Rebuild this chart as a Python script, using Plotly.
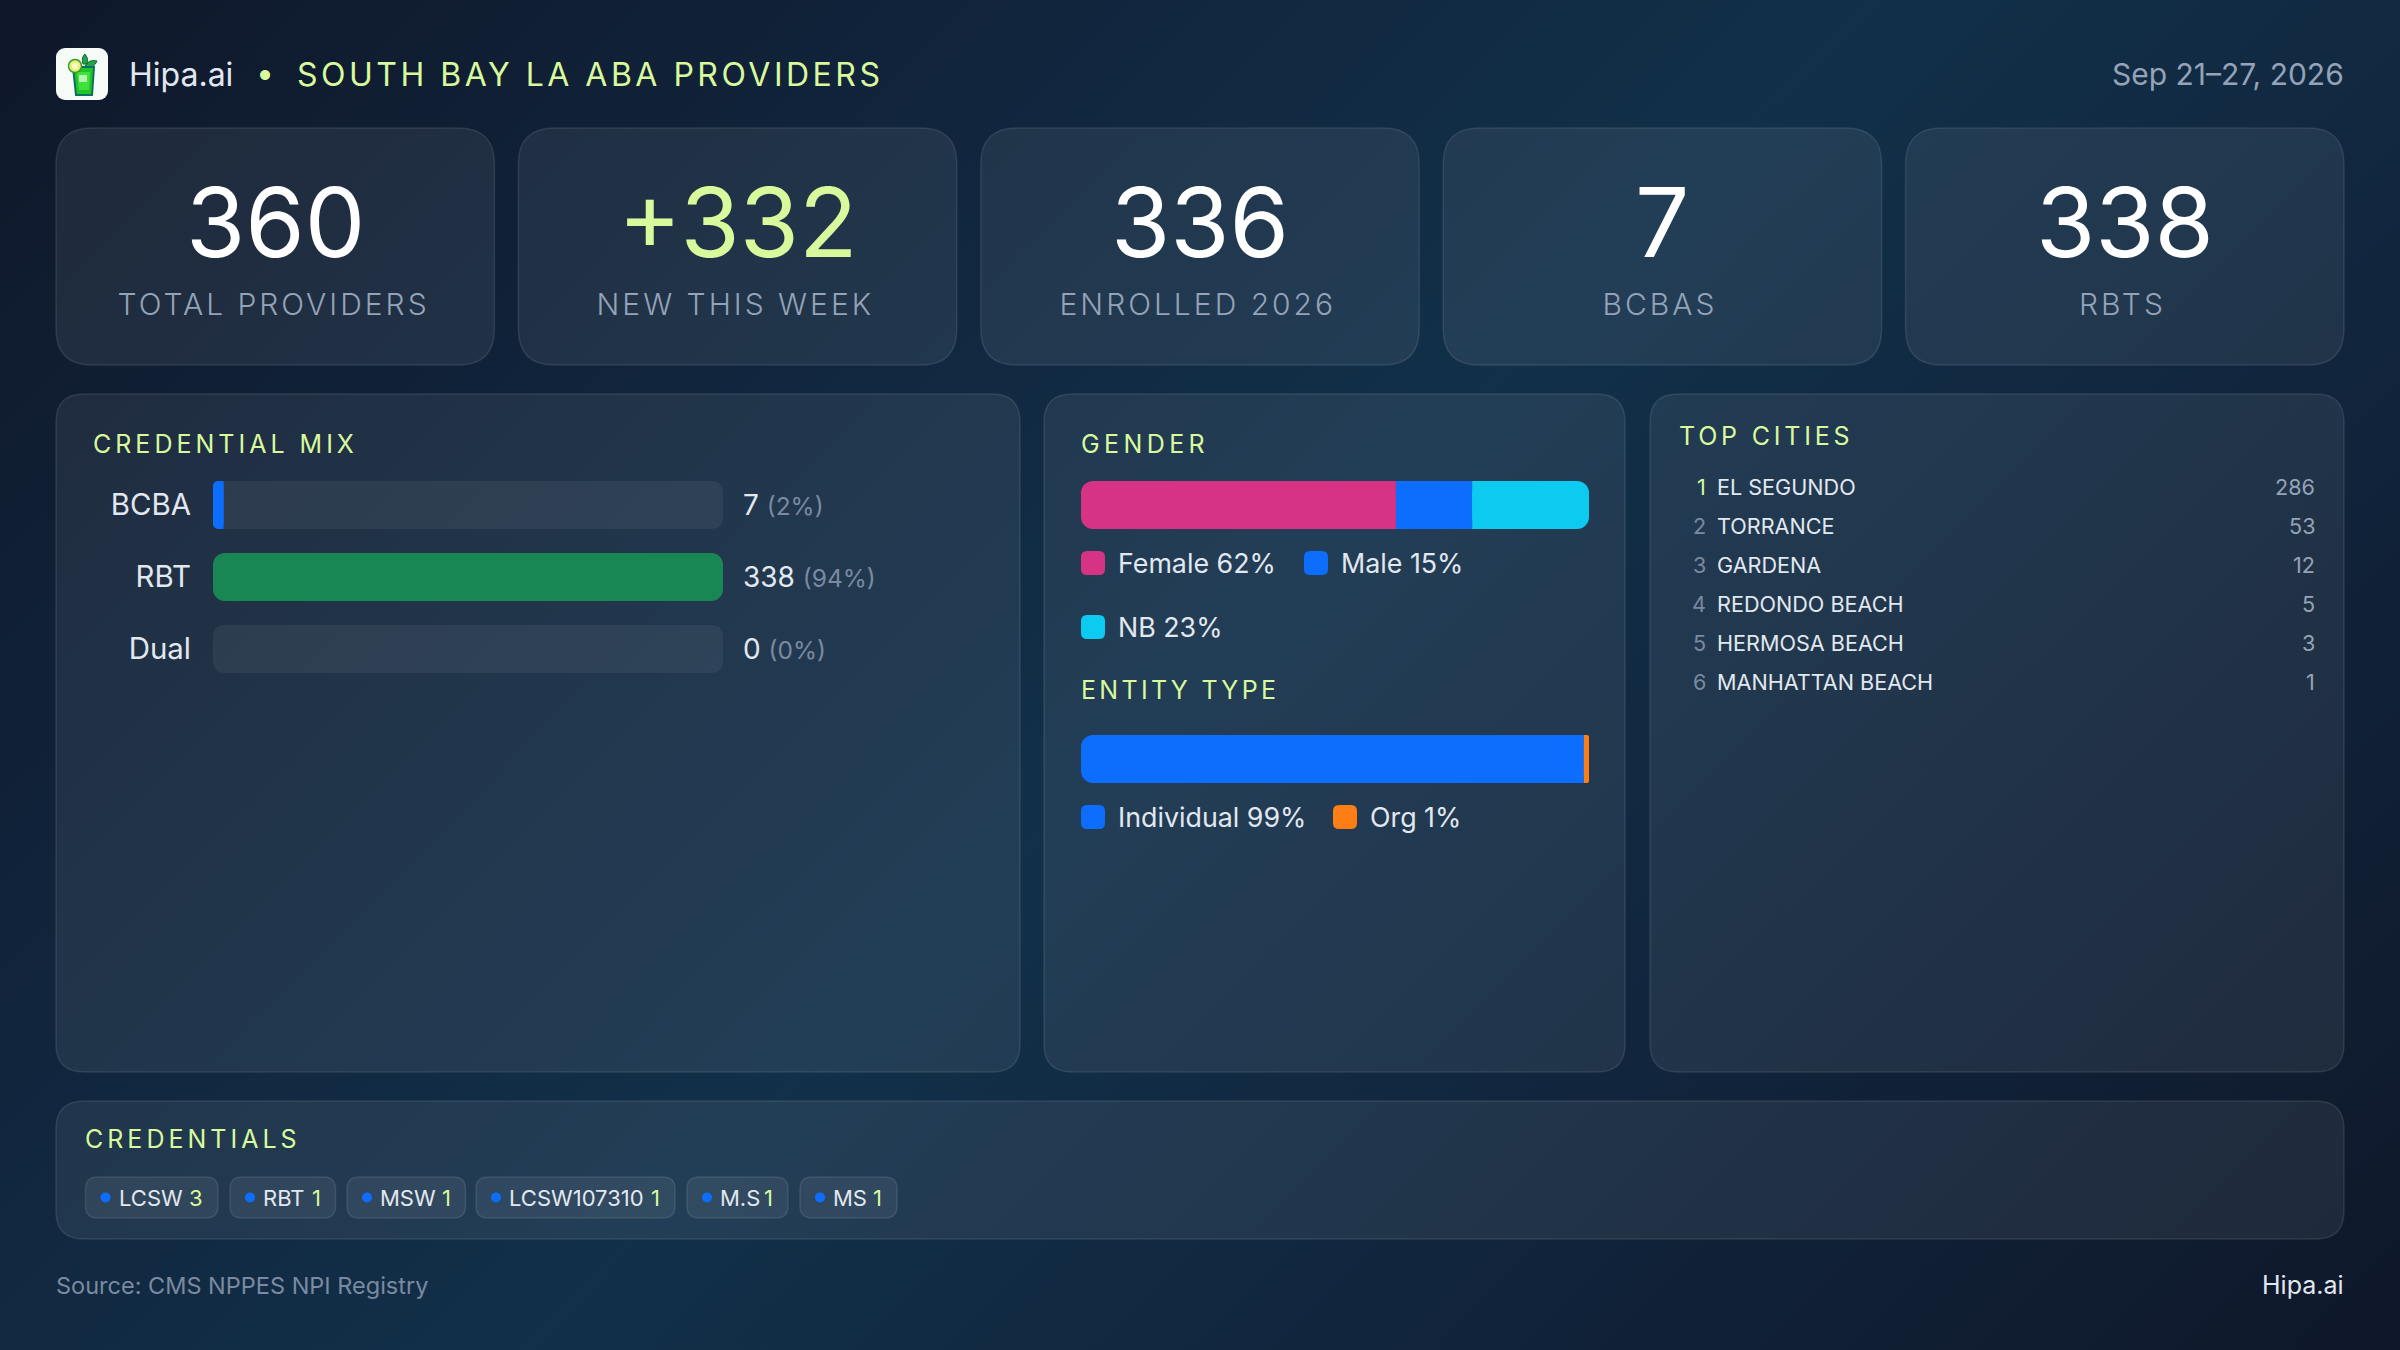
import base64
import json

import plotly.graph_objs as go

W = 2400
H = 1350
FONT = "Inter"
LIME = "#d9f99d"
TEXT = "#e2e8f0"
MUTED = "#94a3b8"
DIM = "#7a8aa0"
BLUE = "#0d6efd"
PINK = "#d63384"
CYAN = "#0dcaf0"
ORANGE = "#fd7e14"
GREEN = "#198754"
TRACK = "rgba(255,255,255,0.06)"
CARD = "rgba(255,255,255,0.072)"
EDGE = "rgba(255,255,255,0.10)"

kpi_values = ["360", "+332", "336", "7", "338"]
kpi_labels = ["TOTAL PROVIDERS", "NEW THIS WEEK", "ENROLLED 2026", "BCBAS", "RBTS"]

cred_names = ["BCBA", "RBT", "Dual"]
cred_counts = [7, 338, 0]
cred_pcts = [2, 94, 0]

gender_names = ["Female", "Male", "NB"]
gender_pcts = [62, 15, 23]
entity_names = ["Individual", "Org"]
entity_pcts = [99, 1]

city_names = ["EL SEGUNDO", "TORRANCE", "GARDENA", "REDONDO BEACH", "HERMOSA BEACH", "MANHATTAN BEACH"]
city_counts = [286, 53, 12, 5, 3, 1]

pill_names = ["LCSW", "RBT", "MSW", "LCSW107310", "M.S", "MS"]
pill_counts = [3, 1, 1, 1, 1, 1]


def px(x):
    return x / W


def py(y):
    return 1 - y / H


def svg_uri(svg):
    return "data:image/svg+xml;base64," + base64.b64encode(svg.encode()).decode()


fig = go.Figure()
spacing = {}


def label(text, x, y, size, color=TEXT, anchor="left", weight=400, ls=0):
    fig.add_annotation(xref="paper", yref="paper", x=px(x), y=py(y), text=text,
                       showarrow=False, xanchor=anchor, yanchor="middle", borderpad=0, borderwidth=0,
                       font=dict(family=FONT, size=size, color=color, weight=weight))
    if ls:
        spacing[text] = [ls, anchor]


def round_rect(x0, y0, x1, y1, r, fill, line=None):
    X0, X1, Y0, Y1 = px(x0), px(x1), py(y0), py(y1)
    rx, ry = r / W, r / H
    path = (f"M {X0 + rx} {Y0} L {X1 - rx} {Y0} Q {X1} {Y0} {X1} {Y0 - ry} "
            f"L {X1} {Y1 + ry} Q {X1} {Y1} {X1 - rx} {Y1} "
            f"L {X0 + rx} {Y1} Q {X0} {Y1} {X0} {Y1 + ry} "
            f"L {X0} {Y0 - ry} Q {X0} {Y0} {X0 + rx} {Y0} Z")
    fig.add_shape(type="path", path=path, xref="paper", yref="paper", layer="below",
                  fillcolor=fill, line=dict(color=line or "rgba(0,0,0,0)", width=1.5 if line else 0))


def bar_piece(xa, ya, cat, start, end, color, radius):
    fig.add_trace(go.Bar(x=[end - start], base=[start], y=[cat], orientation="h", width=0.667,
                         xaxis=xa, yaxis=ya, hoverinfo="skip", showlegend=False,
                         marker=dict(color=color, cornerradius=radius, line_width=0)))


def segment(xa, ya, cat, start, end, color, left=True, right=True, radius=12):
    # a bar with a base gets all four corners round, so a square half goes on top for the straight end
    mid = (start + end) / 2
    bar_piece(xa, ya, cat, start, end, color, radius if left or right else 0)
    if left and not right:
        bar_piece(xa, ya, cat, mid, end, color, 0)
    if right and not left:
        bar_piece(xa, ya, cat, start, mid, color, 0)


# cards
for i in range(5):
    x0 = 56 + i * 462.4
    round_rect(x0, 128, x0 + 438.4, 365, 36, CARD, EDGE)
    cx = x0 + 219.2
    label(kpi_values[i], cx, 222, 96, LIME if i == 1 else "#ffffff", "center", 400)
    label(kpi_labels[i], cx - 2, 304, 30, MUTED, "center", 300, 3)

round_rect(56, 394, 1020, 1072, 28, CARD, EDGE)
round_rect(1044, 394, 1625, 1072, 28, CARD, EDGE)
round_rect(1650, 394, 2344, 1072, 28, CARD, EDGE)
round_rect(56, 1101, 2344, 1239, 28, CARD, EDGE)

# header
logo = ('<svg xmlns="http://www.w3.org/2000/svg" viewBox="0 0 52 52">'
        '<rect width="52" height="52" rx="9" fill="#f6fbf7"/>'
        '<path d="M27 16 Q25 9 29 6 Q33 10 31 16 Z M29 18 Q33 11 41 13 Q38 20 31 20 Z" fill="#22a447" stroke="#14663a"/>'
        '<path d="M17 19 H38 L36 47 H20 Z" fill="#22c528" stroke="#0f6e62" stroke-width="2"/>'
        '<path d="M21 24 H34 L33 42 H23 Z" fill="#3ee23b"/>'
        '<rect x="23" y="27" width="8" height="7" fill="#b6f5b0"/>'
        '<circle cx="19" cy="18" r="6.5" fill="#e8f07a" stroke="#3f9a2e" stroke-width="1.5"/>'
        '<circle cx="19" cy="18" r="3" fill="#f7f9c8"/>'
        '</svg>')
images = [dict(source=svg_uri(
    '<svg xmlns="http://www.w3.org/2000/svg" width="2400" height="1350"><defs>'
    '<linearGradient id="g" gradientUnits="userSpaceOnUse" x1="262.5" y1="-262.5" x2="2137.5" y2="1612.5">'
    '<stop offset="0" stop-color="#0f172a"/><stop offset="0.5" stop-color="#12304a"/>'
    '<stop offset="1" stop-color="#0f172a"/></linearGradient></defs>'
    '<rect width="2400" height="1350" fill="url(#g)"/></svg>'),
    xref="paper", yref="paper", x=0, y=1, sizex=1, sizey=1, sizing="stretch", layer="below",
    xanchor="left", yanchor="top"),
    dict(source=svg_uri(logo), xref="paper", yref="paper", x=px(56), y=py(48), sizex=52 / W, sizey=52 / H,
         sizing="stretch", layer="below", xanchor="left", yanchor="top")]

label("Hipa.ai", 129, 74, 32, TEXT)
label("•", 265, 73, 32, LIME, "center")
label("SOUTH BAY LA ABA PROVIDERS", 297, 74, 32, LIME, ls=3.5)
label("Sep 21–27, 2026", 2344, 74, 30, MUTED, "right")

# credential mix
label("CREDENTIAL MIX", 93, 444, 25, LIME, ls=4)
cred_max = max(cred_counts)
for row_y in [505, 577, 649]:
    round_rect(213, row_y - 24, 723, row_y + 24, 12, TRACK)
for name, count in zip(cred_names, cred_counts):
    if count:
        segment("x", "y", name, 0, count, BLUE if name == "BCBA" else GREEN, True, count == cred_max)
for count, pct, row_y in zip(cred_counts, cred_pcts, [505, 577, 649]):
    label(f'{count} <span style="color:{DIM};font-size:24.5px">({pct}%)</span>', 743, row_y, 28, TEXT)

# gender and entity
label("GENDER", 1081, 444, 25, LIME, ls=4.4)
start = 0
for i, (name, pct, color) in enumerate(zip(gender_names, gender_pcts, [PINK, BLUE, CYAN])):
    segment("x2", "y2", "gender", start, start + pct, color, i == 0, i == 2)
    start += pct
for name, pct, color, x, y in zip(gender_names, gender_pcts, [PINK, BLUE, CYAN], [1081, 1304, 1081], [563, 563, 627]):
    round_rect(x, y - 12, x + 24, y + 12, 6, color)
    label(f"{name} {pct}%", x + 37, y, 26.8, TEXT)

label("ENTITY TYPE", 1081, 690, 25, LIME, ls=3.3)
start = 0
for i, (name, pct, color) in enumerate(zip(entity_names, entity_pcts, [BLUE, ORANGE])):
    segment("x3", "y3", "entity", start, start + pct, color, i == 0, i == 1)
    start += pct
for name, pct, color, x in zip(entity_names, entity_pcts, [BLUE, ORANGE], [1081, 1333]):
    round_rect(x, 805, x + 24, 829, 6, color)
    label(f"{name} {pct}%", x + 37, 817, 26.8, TEXT)

# top cities
label("TOP CITIES", 1679, 436, 25, LIME, ls=3.8)
for i, (name, count) in enumerate(zip(city_names, city_counts)):
    y = 487 + i * 39
    label(str(i + 1), 1706, y, 21.6, LIME if i == 0 else DIM, "right")
    label(name, 1717, y, 21.6, TEXT)
    label(str(count), 2315, y, 21.6, MUTED, "right")

# credentials pills
label("CREDENTIALS", 85, 1139, 25, LIME, ls=4)
pill_left = [85.5, 230, 347, 476, 687, 800]
pill_right = [218, 335.5, 465.5, 675, 788, 897]
for name, count, x0, x1 in zip(pill_names, pill_counts, pill_left, pill_right):
    round_rect(x0, 1177, x1, 1218, 12, CARD, EDGE)
    fig.add_shape(type="circle", xref="paper", yref="paper", layer="below", fillcolor=BLUE, line_width=0,
                  x0=px(x0 + 15), x1=px(x0 + 25), y0=py(1192.5), y1=py(1202.5))
    label(name, x0 + 33, 1197.5, 22, TEXT)
    label(str(count), x1 - 15, 1197.5, 22, LIME, "right")

# footer
label("Source: CMS NPPES NPI Registry", 56, 1285, 23.5, DIM)
label("Hipa.ai", 2344, 1285, 25, TEXT, "right")

hidden_x = dict(visible=False, fixedrange=True)
fig.update_layout(
    width=W, height=H, margin=dict(l=0, r=0, t=0, b=0), autosize=False,
    paper_bgcolor="#10233b", plot_bgcolor="rgba(0,0,0,0)",
    barmode="overlay", hovermode=False, showlegend=False, images=images,
    xaxis=dict(domain=[px(213), px(723)], range=[0, cred_max], anchor="y", **hidden_x),
    yaxis=dict(domain=[py(685), py(469)], type="category", categoryorder="array", categoryarray=cred_names,
               range=[2.5, -0.5], anchor="x", fixedrange=True, showgrid=False, zeroline=False, showline=False,
               ticks="", ticklabelstandoff=21, tickfont=dict(family=FONT, size=29.4, color=TEXT)),
    xaxis2=dict(domain=[px(1081), px(1589)], range=[0, 100], anchor="y2", **hidden_x),
    yaxis2=dict(domain=[py(541), py(469)], type="category", range=[-0.5, 0.5], anchor="x2", **hidden_x),
    xaxis3=dict(domain=[px(1081), px(1589)], range=[0, 100], anchor="y3", **hidden_x),
    yaxis3=dict(domain=[py(795), py(723)], type="category", range=[-0.5, 0.5], anchor="x3", **hidden_x),
)

# letter spacing has no plotly option; the text is middle anchored inside its box, so left ones move right
post = """
document.documentElement.style.margin = '0';
document.body.style.margin = '0';
document.documentElement.style.overflow = 'hidden';
var spacing = %s;
document.getElementById('{plot_id}').querySelectorAll('.annotation-text').forEach(function (el) {
  var s = spacing[el.getAttribute('data-unformatted')];
  if (!s) return;
  el.style.letterSpacing = s[0] + 'px';
  if (s[1] === 'left') {
    el.setAttribute('transform', 'translate(' + (s[0] * el.textContent.length / 2) + ',0)');
  }
});
""" % json.dumps(spacing)

fig.write_html("out.html", config={"displayModeBar": False}, post_script=post)
